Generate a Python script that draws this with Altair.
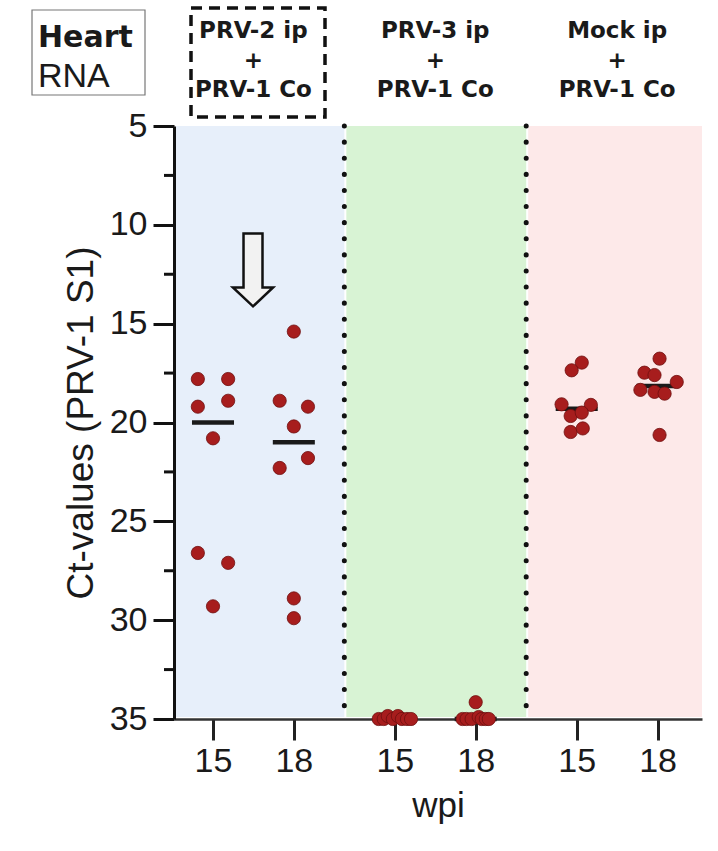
import altair as alt
import pandas as pd

# ---------------- data ----------------
group_titles = ["PRV-2 ip\n+\nPRV-1 Co", "PRV-3 ip\n+\nPRV-1 Co", "Mock ip\n+\nPRV-1 Co"]
group_centers = [4, 13, 22]
slot_pos = [2, 6, 11, 15, 20, 24]
wpi_labels = ["15", "18", "15", "18", "15", "18"]

ct_prv2_15 = [17.8, 17.8, 19.2, 18.9, 20.8, 26.6, 27.1, 29.3]
jit_prv2_15 = [-0.75, 0.75, -0.75, 0.75, 0.0, -0.75, 0.75, 0.0]
ct_prv2_18 = [15.4, 18.9, 19.2, 20.2, 21.8, 22.3, 28.9, 29.9]
jit_prv2_18 = [0.0, -0.7, 0.7, 0.0, 0.7, -0.7, 0.0, 0.0]
ct_prv3_15 = [35, 35, 34.85, 35, 34.85, 35, 35, 35]
jit_prv3_15 = [-0.8, -0.55, -0.35, -0.1, 0.15, 0.35, 0.6, 0.8]
ct_prv3_18 = [35, 35, 35, 34.15, 34.9, 35, 35, 35]
jit_prv3_18 = [-0.65, -0.45, -0.2, 0.0, 0.15, 0.3, 0.5, 0.65]
ct_mock_15 = [16.97, 17.36, 19.08, 19.11, 19.67, 19.5, 20.48, 20.3]
jit_mock_15 = [0.25, -0.25, -0.75, 0.7, -0.3, 0.25, -0.3, 0.3]
ct_mock_18 = [16.77, 17.48, 17.6, 17.95, 18.35, 18.45, 18.54, 20.63]
jit_mock_18 = [0.1, -0.65, -0.15, 0.95, -0.85, -0.15, 0.35, 0.1]

band_start = [0.07, 8.5, 17.5]
band_end = [8.5, 17.5, 26.2]
band_colors = ["#e7effa", "#d8f3d4", "#fde9e9"]
dividers = [8.5, 17.5]
y_major = [5, 10, 15, 20, 25, 30, 35]
y_minor = [7.5, 12.5, 17.5, 22.5, 27.5, 32.5]
arrow_x = [3.98]
arrow_y = [12.28]

# ---------------- tables ----------------
all_ct = [ct_prv2_15, ct_prv2_18, ct_prv3_15, ct_prv3_18, ct_mock_15, ct_mock_18]
all_jit = [jit_prv2_15, jit_prv2_18, jit_prv3_15, jit_prv3_18, jit_mock_15, jit_mock_18]
rows = []
for s, cts, jits in zip(slot_pos, all_ct, all_jit):
    for c, j in zip(cts, jits):
        rows.append({"slot": s, "ct": c, "x": s + j})
pts = pd.DataFrame(rows)

bands = pd.DataFrame({"x0": band_start, "x1": band_end, "col": band_colors,
                      "y0": [5] * 3, "y1": [35] * 3})
divs = pd.DataFrame({"x": dividers, "y0": [5] * 2, "y1": [35] * 2})
minor = pd.DataFrame({"y": y_minor})
heads = pd.DataFrame({"x": group_centers, "t": group_titles})
arrow = pd.DataFrame({"x": arrow_x, "y": arrow_y})
one = pd.DataFrame({"a": [0]})

label_expr = " : ".join(f"datum.value == {p} ? '{l}'" for p, l in zip(slot_pos, wpi_labels)) + " : ''"

xscale = alt.Scale(domain=[0.07, 26.2], nice=False, zero=False)
yscale = alt.Scale(domain=[5, 35], reverse=True, nice=False, zero=False)
xaxis = alt.Axis(values=slot_pos, labelExpr=label_expr, title="wpi", grid=False,
                 tickSize=21, tickWidth=3, tickColor="#222", domainColor="#333",
                 domainWidth=2.5, labelFontSize=34, labelPadding=4, labelColor="#1a1a1a",
                 titleFontSize=35, titleFontWeight="normal", titlePadding=10,
                 titleColor="#1a1a1a")
yaxis = alt.Axis(values=y_major, title="Ct-values (PRV-1 S1)", grid=False,
                 tickSize=21, tickWidth=3, tickColor="#111", domainColor="#111",
                 domainWidth=3, labelFontSize=34, labelPadding=6, labelColor="#1a1a1a",
                 titleFontSize=37, titleFontWeight="normal", titlePadding=9,
                 titleColor="#1a1a1a")


def X(f):
    return alt.X(f, type="quantitative", scale=xscale, axis=xaxis)


def Y(f):
    return alt.Y(f, type="quantitative", scale=yscale, axis=yaxis)


band_layer = alt.Chart(bands).mark_rect(xOffset=2, y2Offset=-2).encode(
    x=X("x0"), x2="x1", y=Y("y0"), y2="y1",
    fill=alt.Fill("col:N", scale=None))

div_layer = alt.Chart(divs).mark_rule(strokeWidth=5, strokeCap="round",
                                      strokeDash=[0.1, 16], color="#111").encode(
    x=X("x"), y=Y("y0"), y2="y1")

minor_layer = alt.Chart(minor).mark_rule(strokeWidth=3, color="#111").encode(
    y=Y("y"), x=alt.value(-10), x2=alt.value(0))

median_layer = alt.Chart(pts).transform_aggregate(
    med="median(ct)", groupby=["slot"]
).transform_calculate(
    xa="datum.slot - 1.04", xb="datum.slot + 1.04"
).mark_rule(strokeWidth=4.5, color="#1a1a1a").encode(
    x=X("xa"), x2="xb", y=Y("med"))

point_layer = alt.Chart(pts).mark_circle(size=175, fill="#a71d1d", stroke="#6e0f0f",
                                         strokeWidth=0.8, opacity=1).encode(
    x=X("x"), y=Y("ct"))

arrow_path = "M -0.26 -1 L 0.26 -1 L 0.26 0.48 L 0.55 0.48 L 0 1 L -0.55 0.48 L -0.26 0.48 Z"
arrow_layer = alt.Chart(arrow).mark_point(shape=arrow_path, size=5329, filled=True,
                                          fill="#f2f2f2", stroke="#111", strokeWidth=2.5,
                                          opacity=1).encode(
    x=X("x"), y=Y("y"))

head_layer = alt.Chart(heads).mark_text(font="DejaVu Sans", fontWeight="bold", fontSize=23,
                                        lineBreak="\n", lineHeight=29.5, align="center",
                                        baseline="alphabetic", color="#1a1a1a").encode(
    x=X("x"), y=alt.value(-88), text="t:N")

dash_box = alt.Chart(one).mark_rect(fillOpacity=0, stroke="#111", strokeWidth=3.5,
                                    strokeDash=[11, 7]).encode(
    x=alt.value(17), x2=alt.value(151), y=alt.value(-118), y2=alt.value(-9))

heart_box = alt.Chart(one).mark_rect(fillOpacity=0, stroke="#777", strokeWidth=1.2).encode(
    x=alt.value(-142), x2=alt.value(-29), y=alt.value(-116), y2=alt.value(-31))

heart_txt = alt.Chart(one).mark_text(text="Heart", font="DejaVu Sans", fontWeight="bold",
                                     fontSize=30, align="left", baseline="alphabetic",
                                     color="#1a1a1a").encode(
    x=alt.value(-136), y=alt.value(-79))

rna_txt = alt.Chart(one).mark_text(text="RNA", font="Liberation Sans", fontSize=34,
                                   align="left", baseline="alphabetic",
                                   color="#1a1a1a").encode(
    x=alt.value(-136), y=alt.value(-39))

chart = alt.layer(
    band_layer, div_layer, minor_layer, median_layer, point_layer, arrow_layer,
    head_layer, dash_box, heart_box, heart_txt, rna_txt
).properties(
    width=528, height=593,
    autosize=alt.AutoSizeParams(type="none"),
    padding={"left": 174, "top": 126, "right": 16, "bottom": 132},
    background="white",
).configure_view(stroke=None).configure_axis(
    labelFont="Liberation Sans", titleFont="Liberation Sans"
)

chart.save("out.html", embed_options={"renderer": "svg", "actions": False})
